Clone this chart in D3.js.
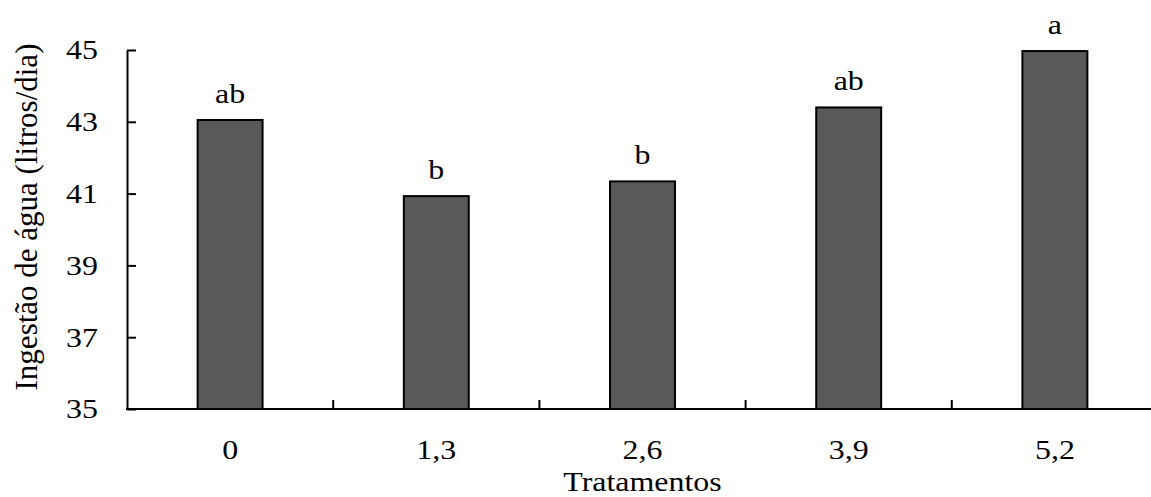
<!DOCTYPE html>
<html><head><meta charset="utf-8">
<script src="https://cdn.jsdelivr.net/npm/d3@7"></script>
<style>body{margin:0;background:#fff;overflow:hidden}svg{display:block}</style>
</head><body>
<script>
const categories = ["0", "1,3", "2,6", "3,9", "5,2"];
const values = [43.05, 40.93, 41.34, 43.40, 44.97];
const letters = ["ab", "b", "b", "ab", "a"];
const yTicks = [35, 37, 39, 41, 43, 45];

const W = 1151, H = 497;
const mLeft = 127, mRight = 1158, mTop = 50, mBottom = 409;
const FONT = "'Times New Roman', Times, 'Liberation Serif', serif";
const FS = 28, SX = 1.14;
const svg = d3.select("body").append("svg").attr("width", W).attr("height", H)
  .style("font-family", FONT);

const x = d3.scaleBand().domain(categories).range([mLeft, mRight]).paddingInner(0).paddingOuter(0);
const y = d3.scaleLinear().domain([35, 45]).range([mBottom, mTop]);
const bw = x.bandwidth() * 0.315;
const cx = c => x(c) + x.bandwidth() / 2;

svg.selectAll("rect.bar").data(values).join("rect").attr("class", "bar")
  .attr("x", (d, i) => cx(categories[i]) - bw / 2)
  .attr("width", bw)
  .attr("y", d => y(d))
  .attr("height", d => y(35) - y(d))
  .attr("fill", "#595959").attr("stroke", "#000").attr("stroke-width", 2);

svg.selectAll("text.lt").data(values).join("text").attr("class", "lt")
  .attr("transform", (d, i) => `translate(${cx(categories[i])},${y(d) - 17.5}) scale(${SX},1)`)
  .attr("text-anchor", "middle").attr("font-size", FS).attr("font-family", FONT)
  .text((d, i) => letters[i]);

// y axis (ticks pointing inward)
const yAxis = svg.append("g").attr("transform", `translate(${mLeft},0)`)
  .call(d3.axisLeft(y).tickValues(yTicks).tickSizeInner(-9).tickSizeOuter(0).tickFormat(""));
yAxis.select(".domain").attr("stroke", "#000").attr("stroke-width", 2);
yAxis.selectAll(".tick line").attr("stroke", "#000").attr("stroke-width", 2);
svg.selectAll("text.yl").data(yTicks).join("text").attr("class", "yl")
  .attr("transform", d => `translate(98,${y(d) + 9.3}) scale(${SX},1)`)
  .attr("text-anchor", "end").attr("font-size", FS).attr("font-family", FONT).text(d3.format("d"));

// x axis: ticks at band boundaries, pointing inward
const xAxis = svg.append("g").attr("transform", `translate(0,${mBottom})`);
xAxis.append("line").attr("x1", mLeft - 1).attr("x2", mRight).attr("y1", 0).attr("y2", 0)
  .attr("stroke", "#000").attr("stroke-width", 2);
const bounds = categories.slice(1).map(c => x(c));
xAxis.selectAll("line.tk").data(bounds).join("line").attr("class", "tk")
  .attr("x1", d => d).attr("x2", d => d).attr("y1", 0).attr("y2", -9)
  .attr("stroke", "#000").attr("stroke-width", 2);
xAxis.selectAll("text.xl").data(categories).join("text").attr("class", "xl")
  .attr("transform", d => `translate(${cx(d)},50) scale(${SX},1)`)
  .attr("text-anchor", "middle").attr("font-size", FS).attr("font-family", FONT).text(d => d);

svg.append("text").attr("transform", `translate(${(mLeft + mRight) / 2},491) scale(${SX},1)`)
  .attr("text-anchor", "middle").attr("font-size", FS).attr("font-family", FONT).text("Tratamentos");
svg.append("text").attr("transform", "translate(37,217) rotate(-90)")
  .attr("text-anchor", "middle").attr("font-size", 31).attr("font-family", FONT).text("Ingestão de água (litros/dia)");
</script>
</body></html>
